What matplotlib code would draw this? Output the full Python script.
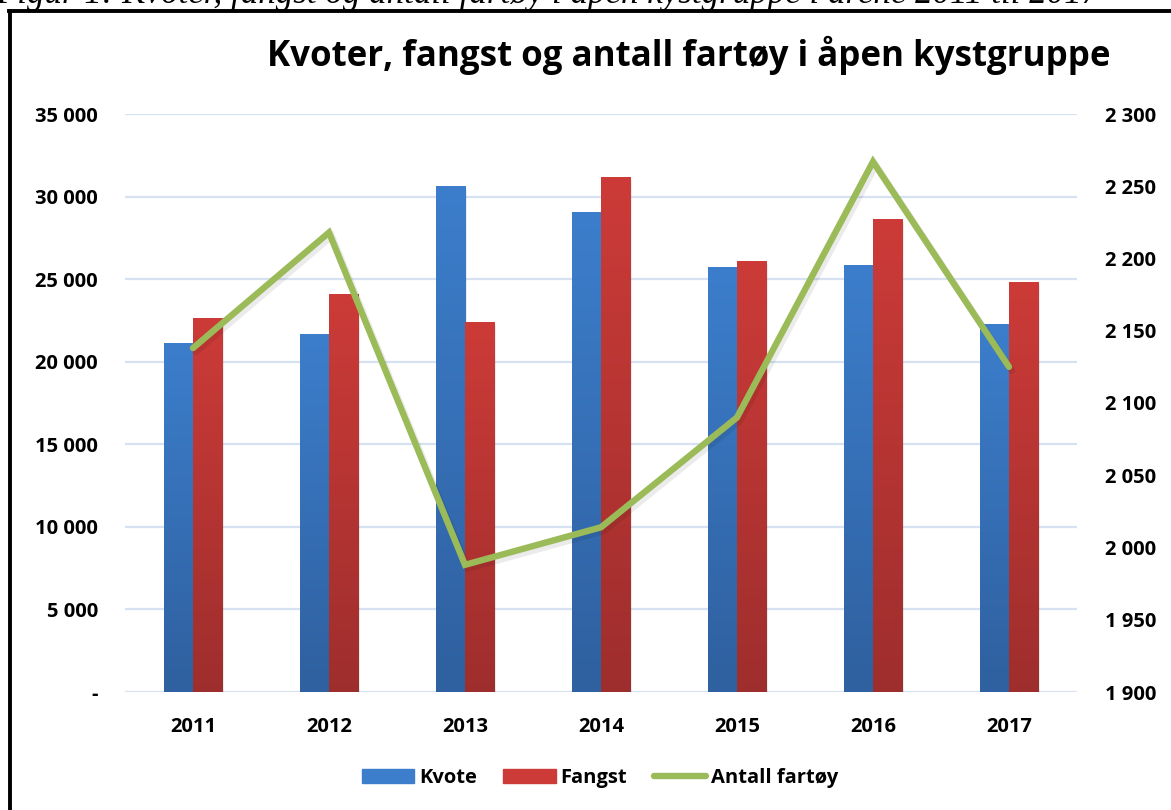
import matplotlib
matplotlib.use("Agg")
import matplotlib.pyplot as plt
import numpy as np
from matplotlib.patches import Rectangle
from matplotlib.lines import Line2D
from matplotlib.colors import LinearSegmentedColormap

years = ["2011", "2012", "2013", "2014", "2015", "2016", "2017"]
kvote = [21100, 21650, 30600, 29050, 25700, 25850, 22250]
fangst = [22600, 24050, 22400, 31150, 26050, 28600, 24800]
fartoy = [2138, 2218, 1988, 2014, 2090, 2267, 2125]
left_ticks = [0, 5000, 10000, 15000, 20000, 25000, 30000, 35000]
left_labels = ["-", "5 000", "10 000", "15 000", "20 000", "25 000", "30 000", "35 000"]
right_ticks = [1900, 1950, 2000, 2050, 2100, 2150, 2200, 2250, 2300]
right_labels = ["1 900", "1 950", "2 000", "2 050", "2 100", "2 150", "2 200", "2 250", "2 300"]

title = "Kvoter, fangst og antall fartøy i åpen kystgruppe"
caption = "Figur 1: Kvoter, fangst og antall fartøy i åpen kystgruppe i årene 2011 til 2017"

FONT = "Open Sans"
W, H = 1171, 810
fig = plt.figure(figsize=(W / 100, H / 100), dpi=100)
fig.patch.set_facecolor("white")

ax = fig.add_axes([125 / W, 1 - 692 / H, (1077 - 125) / W, (692 - 114) / H])
ax2 = ax.twinx()

x = np.arange(len(years))
bw = 0.215
blue_top, blue_bot = "#3C7ECC", "#2F609F"
red_top, red_bot = "#CC3B38", "#9E2E2D"

ax.set_xlim(-0.5, len(years) - 0.5)
ax.set_ylim(0, 35000)
ax2.set_ylim(1900, 2300)

for yv in left_ticks:
    ax.axhline(yv, color="#D6E2F1", lw=1.6, zorder=0)

b1 = ax.bar(x - bw / 2, kvote, bw, color=blue_top, zorder=2)
b2 = ax.bar(x + bw / 2, fangst, bw, color=red_top, zorder=2)

def grad(bars, top, bot):
    cmap = LinearSegmentedColormap.from_list("g", [bot, top])
    for b in bars:
        x0, w, h = b.get_x(), b.get_width(), b.get_height()
        ax.add_patch(Rectangle((x0 + 0.012, 0), w, h - 150, color="#000000",
                               alpha=0.08, zorder=1.5, lw=0))
        g = np.linspace(0, 1, 256).reshape(-1, 1)
        ax.imshow(g, extent=(x0, x0 + w, 0, h), origin="lower", cmap=cmap,
                  aspect="auto", zorder=2.5, vmin=0, vmax=1)
        b.set_alpha(0)

grad(b1, blue_top, blue_bot)
grad(b2, red_top, red_bot)
ax.set_xlim(-0.5, len(years) - 0.5)
ax.set_ylim(0, 35000)

ax2.plot(x + 0.02, np.array(fartoy) - 2.5, color="#000000", alpha=0.08, lw=5,
         solid_capstyle="round", solid_joinstyle="miter", zorder=3)
ax2.plot(x, fartoy, color="#9BBB59", lw=4.6, solid_capstyle="round",
         solid_joinstyle="miter", zorder=4)

ax.set_zorder(1)
ax2.set_zorder(2)
ax2.patch.set_visible(False)

for a in (ax, ax2):
    for s in a.spines.values():
        s.set_visible(False)
    a.tick_params(length=0)

TS = 14.5
ax.set_xticks(x)
ax.set_xticklabels(years, fontsize=TS, fontweight="bold", family=FONT)
ax.tick_params(axis="x", pad=18)
ax.set_yticks(left_ticks)
ax.set_yticklabels(left_labels, fontsize=TS, fontweight="bold", family=FONT)
ax.tick_params(axis="y", pad=19.5)
ax2.set_yticks(right_ticks)
ax2.set_yticklabels(right_labels, fontsize=TS, fontweight="bold", family=FONT)
ax2.tick_params(axis="y", pad=20)

t = fig.text(689 / W, 1 - 55 / H, title, ha="center", va="center",
             fontsize=28, fontweight="bold", family=FONT)
cap = fig.text(-4 / W, 1 - 3 / H, caption, ha="left", va="baseline", fontsize=20,
               style="italic", family="Liberation Serif")
fig.canvas.draw()
bb = t.get_window_extent()
t.set_fontsize(28 * 842 / bb.width)
cb = cap.get_window_extent()
cap.set_fontsize(20 * 1100 / cb.width)

fig.add_artist(Line2D([10 / W, 10 / W], [0, 1 - 10.5 / H], color="black", lw=2.8,
                      transform=fig.transFigure))
fig.add_artist(Line2D([8.6 / W, 1], [1 - 10.5 / H, 1 - 10.5 / H], color="black", lw=2.8,
                      transform=fig.transFigure))

handles = [Rectangle((0, 0), 1, 1, color=blue_top),
           Rectangle((0, 0), 1, 1, color=red_top),
           Line2D([], [], color="#9BBB59", lw=4.6, solid_capstyle="round")]
leg = fig.legend(handles, ["Kvote", "Fangst", "Antall fartøy"], loc="center",
                 bbox_to_anchor=(600 / W, 1 - 778 / H), ncol=3, frameon=False,
                 prop={"family": FONT, "weight": "bold", "size": 14.5},
                 handlelength=2.6, handleheight=0.7, handletextpad=0.25,
                 columnspacing=1.3)

fig.savefig("out.png", dpi=100, facecolor="white")
